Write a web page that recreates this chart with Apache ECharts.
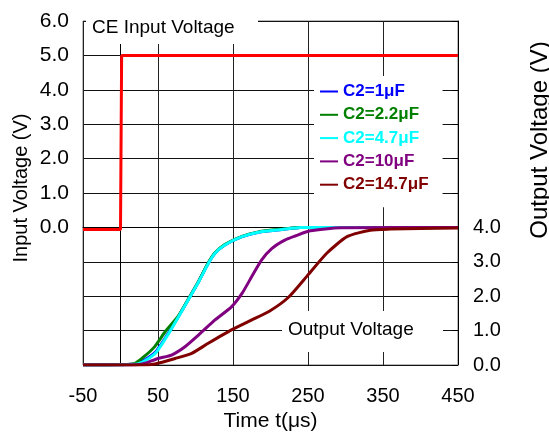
<!DOCTYPE html>
<html>
<head>
<meta charset="utf-8">
<script src="https://cdn.jsdelivr.net/npm/echarts@6/dist/echarts.min.js"></script>
<style>html,body{margin:0;padding:0;background:#fff}#c{width:549px;height:433px}</style>
</head>
<body>
<div id="c"></div>
<script>
// ---- data ----
var xTicks = [-50, 50, 150, 250, 350, 450];
var inputT = [-50, 0, 1.5, 450];
var inputV = [-0.06, -0.06, 5.0, 5.0];

var c1T = [-50, 19, 33, 48, 64, 77, 90, 104, 117, 126, 139, 162, 184, 215, 240, 450];
var c1V = [0, 0.03, 0.16, 0.41, 0.93, 1.40, 1.89, 2.42, 2.96, 3.25, 3.49, 3.73, 3.86, 3.94, 4.0, 4.0];
var c22T = [-50, 17, 30, 45, 60, 77, 90, 104, 117, 126, 139, 162, 184, 215, 240, 450];
var c22V = [0, 0.03, 0.22, 0.52, 0.98, 1.42, 1.90, 2.43, 2.97, 3.26, 3.50, 3.74, 3.87, 3.95, 4.0, 4.0];
var c47T = [-50, 20, 33, 48, 64, 77, 90, 104, 117, 126, 139, 162, 184, 215, 240, 450];
var c47V = [0, 0.02, 0.13, 0.38, 0.91, 1.39, 1.88, 2.41, 2.95, 3.25, 3.49, 3.73, 3.86, 3.94, 4.0, 4.0];
var c10T = [-50, 22, 33, 50, 68, 86, 104, 126, 148, 162, 175, 188, 202, 219, 233, 253, 293, 450];
var c10V = [0, 0.01, 0.05, 0.19, 0.29, 0.53, 0.87, 1.31, 1.69, 2.08, 2.57, 3.05, 3.39, 3.63, 3.75, 3.90, 3.99, 4.0];
var c147T = [-50, 30, 46, 73, 95, 117, 148, 175, 199, 224, 250, 275, 302, 333, 360, 400, 450];
var c147V = [0, 0, 0.03, 0.19, 0.34, 0.63, 1.02, 1.31, 1.57, 1.97, 2.62, 3.25, 3.73, 3.92, 3.95, 3.97, 3.98];

var names = ['C2=1\u03bcF', 'C2=2.2\u03bcF', 'C2=4.7\u03bcF', 'C2=10\u03bcF', 'C2=14.7\u03bcF'];
var colors = ['#0000ff', '#008000', '#00ffff', '#800080', '#800000'];
var outT = [c1T, c22T, c47T, c10T, c147T];
var outV = [c1V, c22V, c47V, c10V, c147V];

function pairs(t, v) { return t.map(function (x, i) { return [x, v[i]]; }); }

var FONT = '"Liberation Sans", Arial, sans-serif';
var chart = echarts.init(document.getElementById('c'));

var series = outT.map(function (t, i) {
  return {
    name: names[i], type: 'line', yAxisIndex: 1, data: pairs(t, outV[i]),
    showSymbol: false, smooth: 0.2, lineStyle: { color: colors[i], width: 3 },
    itemStyle: { color: colors[i] }, z: i === 3 ? 6 : 3 + i, animation: false
  };
});
series.push({
  name: 'input', type: 'line', yAxisIndex: 0, data: pairs(inputT, inputV),
  showSymbol: false, lineStyle: { color: '#ff0000', width: 3 }, z: 8, animation: false
});

var rich = {};
names.forEach(function (n, i) { rich['c' + i] = { color: colors[i], fontFamily: FONT, fontSize: 17, fontWeight: 'bold' }; });

chart.setOption({
  animation: false,
  grid: { left: 83, right: 91, top: 21, bottom: 68, show: true, borderColor: '#777', borderWidth: 1,
    containLabel: false, outerBoundsMode: 'none' },
  legend: {
    data: names, orient: 'vertical', left: 314, top: 76,
    padding: [7, 14, 14, 6], itemGap: 6.3, backgroundColor: '#fff',
    icon: 'rect', itemWidth: 18, itemHeight: 2,
    textStyle: { fontFamily: FONT, fontSize: 17, fontWeight: 'bold', lineHeight: 17, rich: rich },
    selectedMode: false,
    formatter: function (n) { return '{c' + names.indexOf(n) + '|' + n + '}'; }
  },
  xAxis: {
    type: 'value', min: -50, max: 450, interval: 50,
    name: 'Time t(\u03bcs)', nameLocation: 'middle', nameGap: 43,
    nameTextStyle: { fontFamily: FONT, fontSize: 21, color: '#000' },
    axisLine: { lineStyle: { color: '#000', width: 1 } },
    axisTick: { show: false, customValues: xTicks },
    axisLabel: { customValues: xTicks, fontFamily: FONT, fontSize: 20, color: '#000', margin: 21 },
    splitLine: { show: true, lineStyle: { color: '#222', width: 1 } }
  },
  yAxis: [{
    type: 'value', min: -4, max: 6, interval: 1, position: 'left',
    axisLine: { show: true, lineStyle: { color: '#000' } },
    axisTick: { show: false },
    axisLabel: { fontFamily: FONT, fontSize: 21, color: '#000', margin: 14,
      formatter: function (v) { return v >= 0 ? v.toFixed(1) : ''; } },
    splitLine: { show: true, lineStyle: { color: '#111', width: 1 } }
  }, {
    type: 'value', min: 0, max: 10, interval: 1, position: 'right',
    axisLine: { show: true, lineStyle: { color: '#000' } },
    axisTick: { show: true, inside: true, length: 6, lineStyle: { color: '#000' } },
    axisLabel: { fontFamily: FONT, fontSize: 20, color: '#000', margin: 15,
      formatter: function (v) { return v <= 4 ? v.toFixed(1) : ''; } },
    splitLine: { show: false }
  }],
  graphic: [
    { type: 'rect', shape: { x: 86, y: 10, width: 172, height: 34 }, style: { fill: '#fff' }, z: 10 },
    { type: 'text', x: 92, y: 28, style: { text: 'CE Input Voltage', font: '19px ' + FONT, fill: '#000', textVerticalAlign: 'middle' }, z: 11 },
    { type: 'rect', shape: { x: 282, y: 311, width: 161, height: 41 }, style: { fill: '#fff' }, z: 10 },
    { type: 'text', x: 288, y: 330, style: { text: 'Output Voltage', font: '19px ' + FONT, fill: '#000', textVerticalAlign: 'middle' }, z: 11 },
    { type: 'text', x: 21, y: 188, rotation: Math.PI / 2, style: { text: 'Input Voltage (V)', font: '20px ' + FONT, fill: '#000', textAlign: 'center', textVerticalAlign: 'middle' }, z: 11 },
    { type: 'text', x: 540, y: 140, rotation: Math.PI / 2, style: { text: 'Output Voltage (V)', font: '24px ' + FONT, fill: '#000', textAlign: 'center', textVerticalAlign: 'middle' }, z: 11 }
  ],
  series: series
});
</script>
</body>
</html>
